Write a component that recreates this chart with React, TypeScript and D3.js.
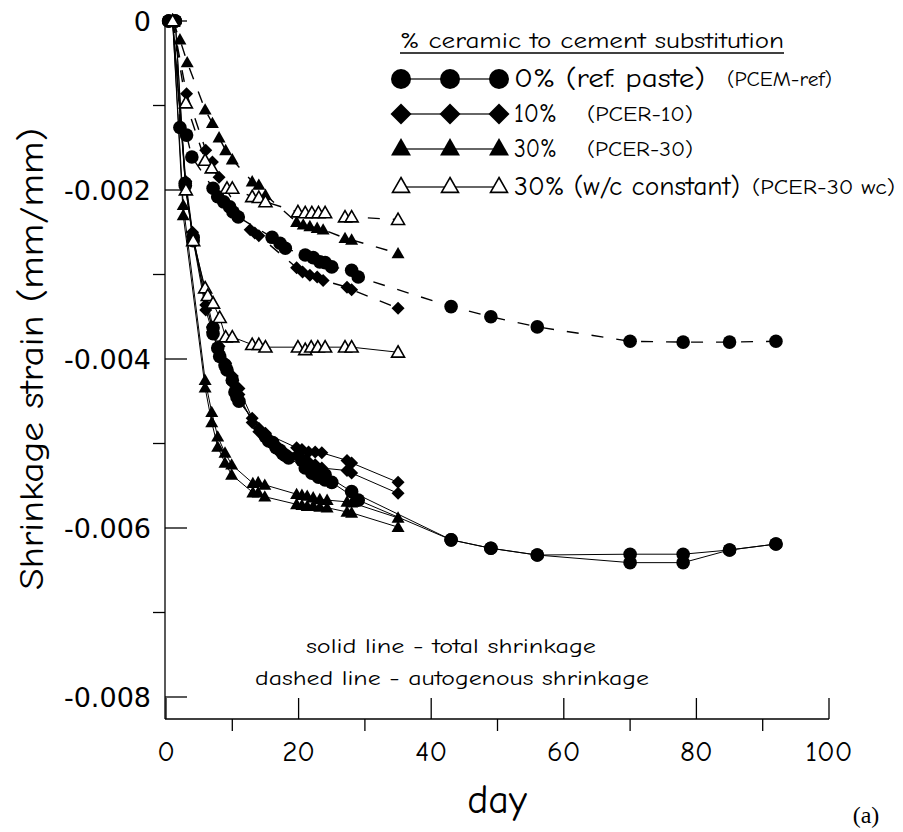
import React from "react";
import * as d3 from "d3";

// ---- axis ticks ----
const xMajorTicks = [0, 20, 40, 60, 80, 100];
const xMinorTicks = [10, 30, 50, 70, 90];
const yMajorTicks = [0, -0.002, -0.004, -0.006, -0.008];
const yMajorLabels = ["0", "-0.002", "-0.004", "-0.006", "-0.008"];
const yMinorTicks = [-0.001, -0.003, -0.005, -0.007];

// ---- data: [day, strain (mm/mm)] ----
// total shrinkage (solid lines)
const refTotal1: [number, number][] = [
  [0.4, 0], [1.4, 0], [2.9, -0.00192], [4.1, -0.00256], [7.1, -0.00363], [7.8, -0.00387], [8.9, -0.00407],
  [10, -0.00425], [10.7, -0.00445], [15, -0.00492], [16.1, -0.00499], [17.2, -0.00508], [18, -0.00514],
  [20.5, -0.0052], [21.3, -0.00525], [22.2, -0.0053], [23, -0.00534], [24, -0.00537], [28, -0.00557],
  [43, -0.00614], [49, -0.00624], [56, -0.00632], [70, -0.00631], [78, -0.00631], [85, -0.00626], [92, -0.00619],
];
const refTotal2: [number, number][] = [
  [0.4, 0], [1.4, 0], [2.9, -0.00195], [4.1, -0.0026], [7.1, -0.0037], [8.1, -0.00397], [9.2, -0.00413],
  [10.4, -0.00439], [11, -0.0045], [15.5, -0.00497], [16.6, -0.00505], [17.6, -0.00512], [18.5, -0.00517],
  [21, -0.00529], [22, -0.00535], [23, -0.0054], [24, -0.00543], [25, -0.00546], [29, -0.00567],
  [43, -0.00614], [49, -0.00624], [56, -0.00632], [70, -0.00641], [78, -0.00641], [85, -0.00626], [92, -0.00619],
];
const cer10Total1: [number, number][] = [
  [1, 0], [3, -0.0019], [4, -0.0025], [6, -0.00336], [7, -0.00362], [8, -0.00385], [9, -0.00405], [10, -0.0042],
  [11, -0.00435], [13, -0.0047], [14, -0.00482], [15, -0.00488], [19.7, -0.00505], [20.5, -0.00507],
  [21.5, -0.0051], [22.5, -0.0051], [23.5, -0.00511], [27.3, -0.0052], [28, -0.00523], [35, -0.00546],
];
const cer10Total2: [number, number][] = [
  [1, 0], [3, -0.00195], [4, -0.00255], [6, -0.00342], [7, -0.00368], [8, -0.00392], [9, -0.00412], [10, -0.00428],
  [11, -0.00442], [13, -0.00475], [14, -0.00486], [15, -0.00493], [19.7, -0.00514], [20.5, -0.00518],
  [21.5, -0.00522], [22.5, -0.00525], [23.5, -0.00529], [27.3, -0.00532], [28, -0.00535], [35, -0.00559],
];
const cer30Total1: [number, number][] = [
  [1, 0], [2.6, -0.00218], [5.9, -0.00425], [6.9, -0.00463], [7.8, -0.00492], [8.9, -0.00511], [9.9, -0.00525],
  [13.1, -0.00547], [13.9, -0.00546], [14.9, -0.00549], [19.7, -0.0056], [20.5, -0.00561], [21.3, -0.00562],
  [22.2, -0.00564], [23.2, -0.00566], [24.3, -0.00567], [27.3, -0.00569], [28, -0.0057], [35, -0.00588],
];
const cer30Total2: [number, number][] = [
  [1, 0], [2.6, -0.0023], [5.9, -0.00434], [6.9, -0.00475], [7.8, -0.00504], [8.9, -0.00523], [9.9, -0.00537],
  [13.1, -0.00558], [13.9, -0.00558], [14.9, -0.00563], [19.7, -0.00572], [20.5, -0.00573], [21.3, -0.00574],
  [22.2, -0.00574], [23.2, -0.00575], [24.3, -0.00576], [27.3, -0.00581], [28, -0.00582], [35, -0.00599],
];
const cer30wcTotal: [number, number][] = [
  [1, 0], [3, -0.002], [4.1, -0.0026], [5.9, -0.00316], [6.3, -0.00325], [7.1, -0.00334], [8.1, -0.00351],
  [9, -0.00374], [10, -0.00374], [13, -0.00383], [14, -0.00383], [15, -0.00386], [19.9, -0.00386],
  [21, -0.00389], [21.9, -0.00386], [22.9, -0.00386], [24, -0.00386], [27, -0.00386], [28, -0.00386], [35, -0.00392],
];
// autogenous shrinkage (dashed lines)
const refAuto: [number, number][] = [
  [0.4, 0], [1.4, 0], [2.1, -0.00126], [3.1, -0.00135], [3.9, -0.00161], [7.1, -0.00198], [7.8, -0.00208],
  [8.7, -0.00214], [9.6, -0.0022], [10.1, -0.00226], [10.9, -0.00232], [16, -0.00256], [17.2, -0.00263],
  [18, -0.00269], [21, -0.00277], [22.2, -0.0028], [23.2, -0.00285], [24, -0.00286], [25, -0.00291],
  [28, -0.00295], [29, -0.00303], [43, -0.00338], [49, -0.0035], [56, -0.00362], [70, -0.00379],
  [78, -0.0038], [85, -0.0038], [92, -0.00379],
];
const cer10Auto: [number, number][] = [
  [1, 0], [3.1, -0.00086], [6, -0.00153], [7, -0.00167], [8, -0.00185], [12.7, -0.00247], [13.4, -0.00251],
  [14, -0.00254], [19.7, -0.00292], [20.6, -0.00297], [21.7, -0.00301], [22.8, -0.00303], [23.7, -0.00307],
  [27.3, -0.00315], [28, -0.00318], [35, -0.0034],
];
const cer30Auto: [number, number][] = [
  [1, 0], [2.1, -0.00022], [3.2, -0.00049], [5.9, -0.00105], [7, -0.00121], [8, -0.00138], [9, -0.00153],
  [10, -0.00164], [13, -0.0019], [14, -0.00194], [15, -0.00206], [19.7, -0.00238], [20.7, -0.00241],
  [21.7, -0.00243], [22.8, -0.00245], [23.7, -0.00247], [27, -0.00257], [28, -0.00259], [35, -0.00275],
];
const cer30wcAuto: [number, number][] = [
  [1, 0], [3, -0.00097], [5.9, -0.00165], [6.9, -0.00174], [9.2, -0.00198], [10, -0.00198], [13, -0.00208],
  [14, -0.00209], [15, -0.00214], [19.9, -0.00226], [21, -0.00227], [22, -0.00227], [23, -0.00227],
  [24, -0.00227], [27, -0.00232], [28, -0.00232], [35, -0.00235],
];

type Marker = "circle" | "diamond" | "triangle" | "openTriangle";
const seriesList: { data: [number, number][]; marker: Marker; dashed: boolean }[] = [
  { data: refTotal1, marker: "circle", dashed: false },
  { data: refTotal2, marker: "circle", dashed: false },
  { data: cer10Total1, marker: "diamond", dashed: false },
  { data: cer10Total2, marker: "diamond", dashed: false },
  { data: cer30Total1, marker: "triangle", dashed: false },
  { data: cer30Total2, marker: "triangle", dashed: false },
  { data: cer30wcTotal, marker: "openTriangle", dashed: false },
  { data: refAuto, marker: "circle", dashed: true },
  { data: cer10Auto, marker: "diamond", dashed: true },
  { data: cer30Auto, marker: "triangle", dashed: true },
  { data: cer30wcAuto, marker: "openTriangle", dashed: true },
];

const legendLabels = ["0% (ref. paste)", "10%", "30%", "30% (w/c constant)"];
const legendCodes = ["(PCEM-ref)", "(PCER-10)", "(PCER-30)", "(PCER-30 wc)"];
const legendMarkers: Marker[] = ["circle", "diamond", "triangle", "openTriangle"];
// layout of legend text (pixel widths / positions)
const legendLabelW = [191, 43, 43, 226];
const legendCodeX = [727, 587, 587, 752];
const legendCodeW = [105, 106, 106, 143];
const legendRowY = [79, 114, 149, 187];

const FONT = "'Comic Sans MS', 'Comic Neue', 'DejaVu Sans', sans-serif";

function MarkerShape({ type, cx, cy, s }: { type: Marker; cx: number; cy: number; s: number }) {
  if (type === "circle") return <circle cx={cx} cy={cy} r={s} fill="#000" />;
  if (type === "diamond") {
    const p = `M${cx},${cy - s}L${cx + s},${cy}L${cx},${cy + s}L${cx - s},${cy}Z`;
    return <path d={p} fill="#000" />;
  }
  const p = `M${cx},${cy - s}L${cx + s},${cy + s * 0.75}L${cx - s},${cy + s * 0.75}Z`;
  if (type === "triangle") return <path d={p} fill="#000" />;
  return <path d={p} fill="#fff" stroke="#000" strokeWidth={1.6} strokeLinejoin="miter" />;
}

export default function App() {
  const x = d3.scaleLinear().domain([0, 100]).range([166, 829]);
  const y = d3.scaleLinear().domain([0, -0.008]).range([21, 697]);
  const line = d3
    .line<[number, number]>()
    .x((d) => x(d[0]))
    .y((d) => y(d[1]));

  const axisX0 = 165;
  const axisY0 = 719;

  return (
    <svg
      width={903}
      height={832}
      style={{ position: "absolute", left: 0, top: 0, background: "#fff" }}
      fontFamily={FONT}
    >
      <rect x={0} y={0} width={903} height={832} fill="#fff" />
      {/* axes */}
      <line x1={axisX0} y1={y(0)} x2={axisX0} y2={axisY0} stroke="#000" strokeWidth={1.3} />
      <line x1={axisX0} y1={axisY0} x2={x(100)} y2={axisY0} stroke="#000" strokeWidth={1.3} />
      {yMajorTicks.map((t, i) => (
        <g key={"ym" + i}>
          <line x1={axisX0} x2={axisX0 + 22} y1={y(t)} y2={y(t)} stroke="#000" strokeWidth={1.3} />
          <text
            x={151}
            y={y(t)}
            textAnchor="end"
            dominantBaseline="central"
            fontSize={27}
            fontFamily="'Century Gothic', 'DejaVu Sans', sans-serif"
          >
            {yMajorLabels[i]}
          </text>
        </g>
      ))}
      {yMinorTicks.map((t, i) => (
        <line key={"yn" + i} x1={axisX0 - 12} x2={axisX0} y1={y(t)} y2={y(t)} stroke="#000" strokeWidth={1.3} />
      ))}
      {xMajorTicks.map((t, i) => (
        <g key={"xm" + i}>
          <line x1={x(t)} x2={x(t)} y1={axisY0} y2={axisY0 - 21} stroke="#000" strokeWidth={1.3} />
          <text x={x(t)} y={751} textAnchor="middle" dominantBaseline="central" fontSize={29}>
            {t}
          </text>
        </g>
      ))}
      {xMinorTicks.map((t, i) => (
        <line key={"xn" + i} x1={x(t)} x2={x(t)} y1={axisY0} y2={axisY0 + 12} stroke="#000" strokeWidth={1.3} />
      ))}

      {/* axis titles */}
      <text
        transform={`translate(32,359) rotate(-90)`}
        textAnchor="middle"
        dominantBaseline="central"
        fontSize={34}
        textLength={462}
        lengthAdjust="spacingAndGlyphs"
      >
        Shrinkage strain (mm/mm)
      </text>
      <text x={497} y={800} textAnchor="middle" dominantBaseline="central" fontSize={40}>
        day
      </text>
      <text x={866} y={815} textAnchor="middle" dominantBaseline="central" fontSize={24} fontFamily="'Liberation Serif', 'Times New Roman', serif">
        (a)
      </text>

      {/* annotations */}
      <text x={451} y={646} textAnchor="middle" dominantBaseline="central" fontSize={21} textLength={290} lengthAdjust="spacingAndGlyphs">
        solid line - total shrinkage
      </text>
      <text x={452} y={678} textAnchor="middle" dominantBaseline="central" fontSize={21} textLength={394} lengthAdjust="spacingAndGlyphs">
        dashed line - autogenous shrinkage
      </text>

      {/* series lines */}
      {seriesList.map((s, i) => (
        <path
          key={"l" + i}
          d={line(s.data) || ""}
          fill="none"
          stroke="#000"
          strokeWidth={s.dashed ? 1.4 : 1}
          strokeDasharray={s.dashed ? "12,13" : undefined}
        />
      ))}
      {/* series markers */}
      {seriesList.map((s, i) => (
        <g key={"m" + i}>
          {s.data.map((d, j) => (
            <MarkerShape key={j} type={s.marker} cx={x(d[0])} cy={y(d[1])} s={s.marker === "circle" ? 6.8 : 6.5} />
          ))}
        </g>
      ))}

      {/* legend */}
      <text x={400} y={40} dominantBaseline="central" fontSize={23} textLength={384} lengthAdjust="spacingAndGlyphs">
        % ceramic to cement substitution
      </text>
      <line x1={400} x2={784} y1={53} y2={53} stroke="#000" strokeWidth={1.3} />
      {legendMarkers.map((mk, i) => {
        const ry = legendRowY[i];
        return (
          <g key={"lg" + i}>
            <line x1={401} x2={499} y1={ry} y2={ry} stroke="#333" strokeWidth={1.3} />
            {[401, 450, 499].map((mx, k) => (
              <MarkerShape
                key={k}
                type={mk}
                cx={mx}
                cy={mk === "circle" || mk === "diamond" ? ry : ry - 1}
                s={mk === "circle" ? 10 : mk === "diamond" ? 10.5 : mk === "triangle" ? 10 : 8.5}
              />
            ))}
            <text x={514} y={ry} dominantBaseline="central" fontSize={26} textLength={legendLabelW[i]} lengthAdjust="spacingAndGlyphs">
              {legendLabels[i]}
            </text>
            <text x={legendCodeX[i]} y={ry} dominantBaseline="central" fontSize={21} textLength={legendCodeW[i]} lengthAdjust="spacingAndGlyphs">
              {legendCodes[i]}
            </text>
          </g>
        );
      })}
    </svg>
  );
}
